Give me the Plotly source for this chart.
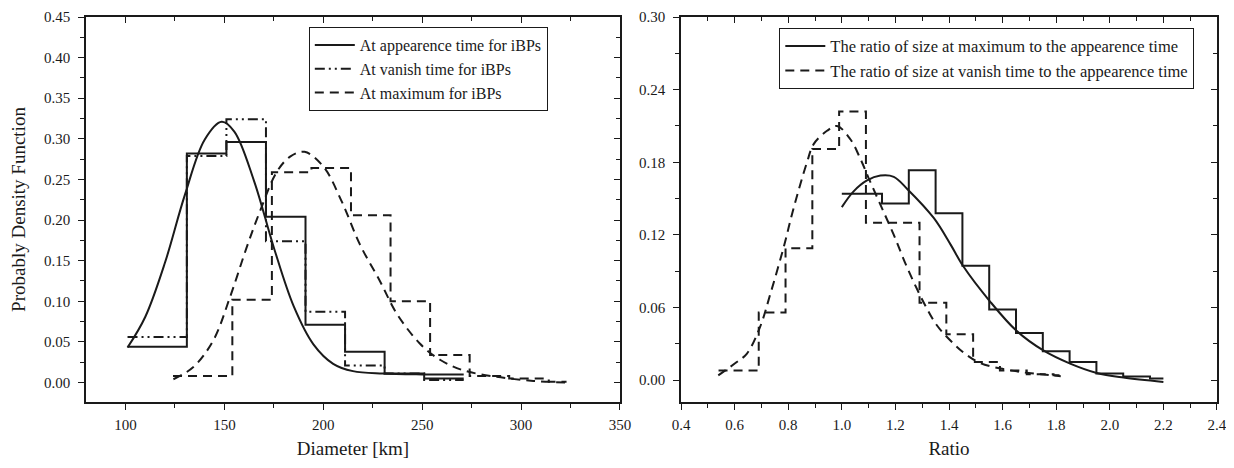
import plotly.graph_objects as go

# ---------------- Left panel data (Diameter [km]) ----------------
appear_edges = [101, 131, 151, 171, 191, 211, 231, 251, 271]
appear_hist = [0.044, 0.282, 0.296, 0.204, 0.071, 0.038, 0.011, 0.005]

vanish_edges = [101, 131, 151, 171, 191, 211, 231, 251, 271]
vanish_hist = [0.056, 0.279, 0.324, 0.174, 0.087, 0.021, 0.011, 0.003]

max_edges = [124, 154, 174, 194, 214, 234, 254, 274, 294, 314, 323]
max_hist = [0.008, 0.102, 0.259, 0.264, 0.206, 0.100, 0.034, 0.008, 0.005, 0.001]

appear_fit_x = [101, 110, 120, 130, 140, 148.6, 155, 165, 175, 185, 195, 205, 215, 230, 250, 271]
appear_fit_y = [0.043, 0.081, 0.148, 0.231, 0.299, 0.321, 0.309, 0.248, 0.166, 0.094,
                0.047, 0.023, 0.014, 0.011, 0.010, 0.010]

max_fit_x = [124.2, 134.3, 144.4, 152.8, 161.2, 168.0, 176.4, 183.2, 190.5, 200, 209.3,
             218.5, 228.6, 237.1, 248.8, 259, 270.8, 287.6, 306.2, 323]
max_fit_y = [0.004, 0.019, 0.052, 0.105, 0.166, 0.211, 0.259, 0.278, 0.284, 0.266, 0.223,
             0.170, 0.125, 0.085, 0.048, 0.028, 0.015, 0.007, 0.002, 0.000]

# ---------------- Right panel data (Ratio) ----------------
rmax_edges = [1.0, 1.15, 1.25, 1.35, 1.45, 1.55, 1.65, 1.75, 1.85, 1.95, 2.05, 2.15, 2.2]
rmax_hist = [0.154, 0.146, 0.1735, 0.138, 0.0945, 0.0585, 0.039, 0.024, 0.015, 0.0055, 0.003, 0.0014]

rvan_edges = [0.54, 0.69, 0.79, 0.89, 0.99, 1.09, 1.19, 1.29, 1.39, 1.49, 1.59, 1.69, 1.79, 1.82]
rvan_hist = [0.008, 0.056, 0.109, 0.191, 0.222, 0.130, 0.130, 0.064, 0.038, 0.015, 0.008, 0.005, 0.004]

rmax_fit_x = [1.0, 1.044, 1.094, 1.144, 1.194, 1.244, 1.343, 1.406, 1.452, 1.551, 1.651,
              1.752, 1.852, 1.951, 2.051, 2.2]
rmax_fit_y = [0.143, 0.156, 0.165, 0.169, 0.168, 0.158, 0.134, 0.112, 0.0945, 0.0656, 0.041,
              0.0246, 0.0137, 0.006, 0.0022, -0.0014]

rvan_fit_x = [0.539, 0.608, 0.646, 0.695, 0.733, 0.782, 0.820, 0.870, 0.895, 0.945, 0.982,
              1.032, 1.069, 1.100, 1.144, 1.194, 1.244, 1.306, 1.356, 1.418, 1.468, 1.518,
              1.593, 1.667, 1.742, 1.817]
rvan_fit_y = [0.004, 0.015, 0.022, 0.044, 0.071, 0.109, 0.142, 0.180, 0.195, 0.206, 0.210,
              0.199, 0.183, 0.167, 0.145, 0.120, 0.093, 0.064, 0.045, 0.030, 0.0205, 0.014,
              0.0096, 0.0068, 0.005, 0.0033]

left_names = ["At appearence time for iBPs", "At vanish time for iBPs", "At maximum for iBPs"]
right_names = ["The ratio of size at maximum to the appearence time",
               "The ratio of size at vanish time to the appearence time"]

FONT = "Liberation Serif"
INK = "#1a1a1a"
DASH = "9px,6px"
DASHDOTDOT = "10px,4px,2px,4px,2px,4px"

fig = go.Figure()


def add_hist(edges, vals, dash, name, xa, ya, legend, show):
    fig.add_trace(go.Scatter(
        x=edges, y=vals + [vals[-1]], mode="lines", line_shape="hv",
        line=dict(color=INK, width=2, dash=dash), name=name,
        legendgroup=name, showlegend=show, legend=legend, xaxis=xa, yaxis=ya))


def add_fit(xs, ys, dash, name, xa, ya, legend):
    fig.add_trace(go.Scatter(
        x=xs, y=ys, mode="lines", line_shape="spline",
        line=dict(color=INK, width=2, dash=dash), name=name,
        legendgroup=name, showlegend=False, legend=legend, xaxis=xa, yaxis=ya))


# left panel
add_hist(appear_edges, appear_hist, "solid", left_names[0], "x", "y", "legend", True)
add_hist(vanish_edges, vanish_hist, DASHDOTDOT, left_names[1], "x", "y", "legend", True)
add_hist(max_edges, max_hist, DASH, left_names[2], "x", "y", "legend", True)
add_fit(appear_fit_x, appear_fit_y, "solid", left_names[0], "x", "y", "legend")
add_fit(max_fit_x, max_fit_y, DASH, left_names[2], "x", "y", "legend")

# right panel
add_hist(rmax_edges, rmax_hist, "solid", right_names[0], "x2", "y2", "legend2", True)
add_hist(rvan_edges, rvan_hist, DASH, right_names[1], "x2", "y2", "legend2", True)
add_fit(rmax_fit_x, rmax_fit_y, "solid", right_names[0], "x2", "y2", "legend2")
add_fit(rvan_fit_x, rvan_fit_y, DASH, right_names[1], "x2", "y2", "legend2")

# empty traces so mirrored (inward-tick) axes are drawn
fig.add_trace(go.Scatter(x=[], y=[], xaxis="x3", yaxis="y3", showlegend=False))
fig.add_trace(go.Scatter(x=[], y=[], xaxis="x4", yaxis="y4", showlegend=False))

tickfont = dict(family=FONT, size=15, color=INK)
titlefont = dict(family=FONT, size=19, color=INK)

L_XR = [80, 350]
L_YR = [-0.024, 0.45]
R_XR = [0.4, 2.4]
R_YR = [-0.018, 0.30]
LDOM = [0.0, 0.4721]
RDOM = [0.5261, 1.0]

common = dict(showline=True, linecolor=INK, linewidth=1.5, showgrid=False, zeroline=False,
              tickcolor=INK, tickwidth=1.2, tickfont=tickfont, automargin=False,
              ticklabeloverflow="allow")

# the page body adds an 8px offset, so the figure is 8px smaller and margins shifted
fig.update_layout(
    width=1226, height=460,
    margin=dict(l=78, r=17, t=9, b=66),
    paper_bgcolor="white", plot_bgcolor="white",
    font=dict(family=FONT, color=INK),
    xaxis=dict(domain=LDOM, range=L_XR, anchor="y", ticks="outside", ticklen=6, dtick=50,
               tick0=0, ticklabelstandoff=2,
               minor=dict(ticks="outside", ticklen=4, dtick=25, tickcolor=INK),
               title=dict(text="Diameter [km]", font=titlefont, standoff=10), **common),
    yaxis=dict(domain=[0, 1], range=L_YR, anchor="x", ticks="outside", ticklen=6, dtick=0.05,
               tick0=0, tickformat=".2f", ticklabelstandoff=5,
               minor=dict(ticks="outside", ticklen=4, dtick=0.025, tickcolor=INK),
               title=dict(text="Probably Density Function", font=titlefont, standoff=14), **common),
    xaxis2=dict(domain=RDOM, range=R_XR, anchor="y2", ticks="outside", ticklen=6, dtick=0.2,
                tick0=0, tickformat=".1f", ticklabelstandoff=2,
                minor=dict(ticks="outside", ticklen=4, dtick=0.1, tickcolor=INK),
                title=dict(text="Ratio", font=titlefont, standoff=10), **common),
    yaxis2=dict(domain=[0, 1], range=R_YR, anchor="x2", ticks="outside", ticklen=6, dtick=0.06,
                tick0=0, tickformat=".2f", ticklabelstandoff=5,
                minor=dict(ticks="outside", ticklen=4, dtick=0.03, tickcolor=INK), **common),
    xaxis3=dict(overlaying="x", side="top", anchor="y3", range=L_XR, ticks="inside", ticklen=6,
                dtick=50, tick0=0, showticklabels=False,
                minor=dict(ticks="inside", ticklen=4, dtick=25, tickcolor=INK), **common),
    yaxis3=dict(overlaying="y", side="right", anchor="x3", range=L_YR, ticks="inside", ticklen=6,
                dtick=0.05, tick0=0, showticklabels=False,
                minor=dict(ticks="inside", ticklen=4, dtick=0.025, tickcolor=INK), **common),
    xaxis4=dict(overlaying="x2", side="top", anchor="y4", range=R_XR, ticks="inside", ticklen=6,
                dtick=0.2, tick0=0, showticklabels=False,
                minor=dict(ticks="inside", ticklen=4, dtick=0.1, tickcolor=INK), **common),
    yaxis4=dict(overlaying="y2", side="right", anchor="x4", range=R_YR, ticks="inside", ticklen=6,
                dtick=0.06, tick0=0, showticklabels=False,
                minor=dict(ticks="inside", ticklen=4, dtick=0.03, tickcolor=INK), **common),
    legend=dict(x=0.197, y=0.974, xanchor="left", yanchor="top", bgcolor="white",
                bordercolor=INK, borderwidth=1, font=dict(family=FONT, size=16, color=INK),
                tracegroupgap=0, itemwidth=40),
    legend2=dict(x=0.613, y=0.972, xanchor="left", yanchor="top", bgcolor="white",
                 bordercolor=INK, borderwidth=1, font=dict(family=FONT, size=16.5, color=INK),
                 tracegroupgap=0, itemwidth=40),
    showlegend=True,
)

fig.write_html("out.html")
